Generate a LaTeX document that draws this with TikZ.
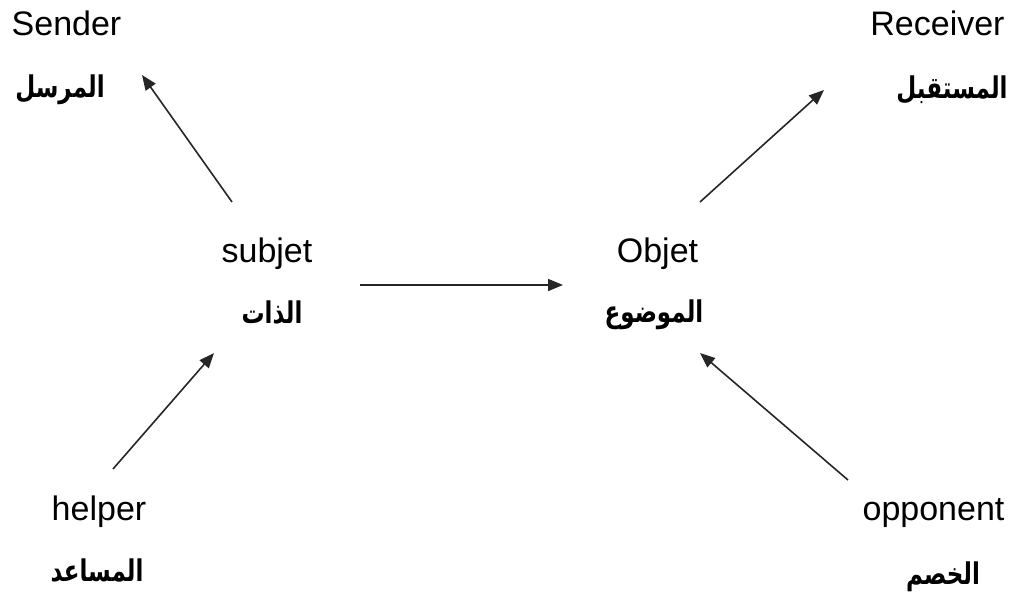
\documentclass[tikz,border=0pt]{standalone}
\usepackage{fontspec}
\setmainfont{Liberation Sans}
\newfontfamily\arabicfont[Script=Arabic]{DejaVu Sans}
\TeXXeTstate=1
\usetikzlibrary{arrows.meta}

% Arabic labels, set right to left and drawn a little taller
\newcommand{\artext}[1]{\scalebox{1}[1.3]{\beginR #1\endR}}

\tikzset{
  role/.style={inner sep=0pt, anchor=base, font=\fontsize{34}{40}\selectfont},
  arabic/.style={inner sep=0pt, anchor=base, font=\arabicfont\bfseries\fontsize{23}{30}\selectfont},
  actarrow/.style={line width=1.6pt, draw=black!85,
    -{Triangle[length=15pt,width=12pt]}}
}

\begin{document}
\begin{tikzpicture}[x=1pt,y=-1pt]
  \useasboundingbox (0,0) rectangle (1013,598);

  % Actants, each with its Arabic name below
  \node[role]   (sender)    at (66.5,35)  {Sender};
  \node[arabic] (sender-ar) at (60,97)    {\artext{المرسل}};
  \node[role]   (receiver)  at (937.5,35) {Receiver};
  \node[arabic] (receiver-ar) at (952,98) {\artext{المستقبل}};
  \node[role]   (subject)   at (267,262)  {subjet};
  \node[arabic] (subject-ar) at (272,323) {\artext{الذات}};
  \node[role]   (object)    at (657.5,262) {Objet};
  \node[arabic] (object-ar) at (654,322)  {\artext{الموضوع}};
  \node[role]   (helper)    at (99,520)   {helper};
  \node[arabic] (helper-ar) at (97,581)   {\artext{المساعد}};
  \node[role]   (opponent)  at (933.5,520) {opponent};
  \node[arabic] (opponent-ar) at (943,584) {\artext{الخصم}};

  % Arrow ends, set a little apart from the labels
  \coordinate (subj-up)    at (232,202);
  \coordinate (sender-in)  at (142,75);
  \coordinate (obj-up)     at (700,202);
  \coordinate (receiver-in) at (824,90);
  \coordinate (subj-right) at (360,285);
  \coordinate (obj-left)   at (563,285);
  \coordinate (helper-up)  at (113,469);
  \coordinate (subj-in)    at (214,353);
  \coordinate (opp-up)     at (848,480);
  \coordinate (obj-in)     at (700,353);

  \draw[actarrow] (subj-up)    -- (sender-in);
  \draw[actarrow] (obj-up)     -- (receiver-in);
  \draw[actarrow] (subj-right) -- (obj-left);
  \draw[actarrow] (helper-up)  -- (subj-in);
  \draw[actarrow] (opp-up)     -- (obj-in);
\end{tikzpicture}
\end{document}
